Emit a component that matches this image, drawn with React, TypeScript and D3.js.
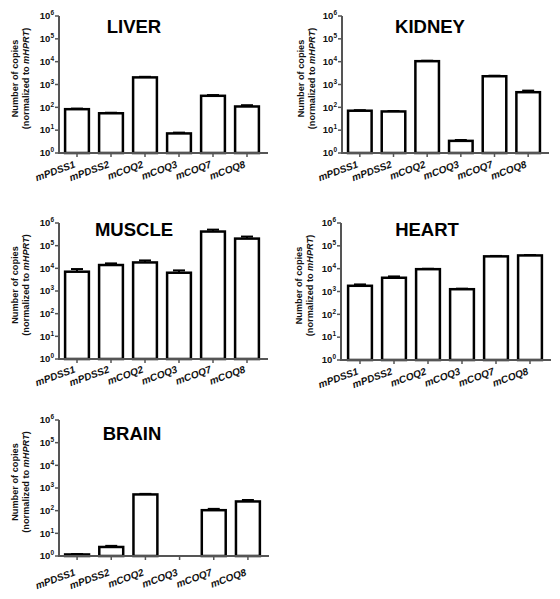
import React from "react";
import * as d3 from "d3";

const categories = ["mPDSS1", "mPDSS2", "mCOQ2", "mCOQ3", "mCOQ7", "mCOQ8"];
const tissues = ["LIVER", "KIDNEY", "MUSCLE", "HEART", "BRAIN"];

const liverValues = [83, 55, 2050, 7.2, 320, 109];
const liverSem = [5, 3, 120, 0.6, 25, 15];
const kidneyValues = [71, 66, 10500, 3.4, 2300, 460];
const kidneySem = [4, 3, 500, 0.3, 120, 80];
const muscleValues = [7100, 14000, 18200, 6400, 420000, 205000];
const muscleSem = [2200, 2500, 4100, 1700, 90000, 47000];
const heartValues = [1780, 4000, 9500, 1260, 34600, 38000];
const heartSem = [260, 570, 400, 70, 1500, 1500];
const brainValues: (number | null)[] = [1.17, 2.5, 520, null, 105, 255];
const brainSem: (number | null)[] = [0.05, 0.3, 30, null, 15, 40];

const yExponents = [0, 1, 2, 3, 4, 5, 6];

const seriesValues = [liverValues, kidneyValues, muscleValues, heartValues, brainValues];
const seriesSem = [liverSem, kidneySem, muscleSem, heartSem, brainSem];

const layouts = [
  { axisX: 59, top: 16, bottom: 153, x0: 60, x1: 264, titleX: 134, titleY: 33, labelDy: 14, labX: 15 },
  { axisX: 342, top: 16, bottom: 153, x0: 343, x1: 545, titleX: 430, titleY: 33, labelDy: 14, labX: 300.7 },
  { axisX: 59, top: 223, bottom: 359, x0: 60, x1: 264, titleX: 134, titleY: 236, labelDy: 13, labX: 15 },
  { axisX: 341, top: 223, bottom: 360, x0: 343, x1: 547, titleX: 427, titleY: 236, labelDy: 14, labX: 299 },
  { axisX: 59, top: 420, bottom: 556, x0: 60, x1: 265, titleX: 132, titleY: 440, labelDy: 19, labX: 15 },
];

const FONT = "'Liberation Sans', Arial, Helvetica, sans-serif";
const AXIS = "#555";

function Panel({ idx }: { idx: number }) {
  const L = layouts[idx];
  const values = seriesValues[idx];
  const sem = seriesSem[idx];
  const x = d3.scaleBand<string>().domain(categories).range([L.x0, L.x1]).paddingInner(0.3).paddingOuter(0.15);
  const y = d3.scaleLog().domain([1, 1e6]).range([L.bottom, L.top]);
  const bw = x.bandwidth();
  const capW = 12;
  const labY = (L.top + L.bottom) / 2 - 6;
  return (
    <g>
      <text x={L.titleX} y={L.titleY} textAnchor="middle" fontFamily={FONT} fontWeight="bold" fontSize={18.5} fill="#000">
        {tissues[idx]}
      </text>
      {/* y label */}
      <g transform={`translate(${L.labX},${labY}) rotate(-90)`} fontFamily={FONT} fontWeight="bold" fontSize={9.2} fill="#111">
        <text textAnchor="middle" dy="0.35em">Number of copies</text>
        <text textAnchor="middle" dy="0.35em" y={10.6}>
          (normalized to <tspan fontStyle="italic">mHPRT</tspan>)
        </text>
      </g>
      {/* bars */}
      {categories.map((c, i) => {
        const v = values[i];
        if (v == null) return null;
        const xs = x(c)!;
        const yt = y(v);
        const s = sem[i] ?? 0;
        const ye = y(v + s);
        const cx = xs + bw / 2;
        return (
          <g key={c}>
            <line x1={cx} x2={cx} y1={yt} y2={ye} stroke="#000" strokeWidth={2} />
            <line x1={cx - capW / 2} x2={cx + capW / 2} y1={ye} y2={ye} stroke="#000" strokeWidth={2} />
            <rect x={xs} y={yt} width={bw} height={L.bottom - yt} fill="#fff" stroke="#000" strokeWidth={2.5} />
          </g>
        );
      })}
      {/* axes */}
      <line x1={L.axisX} x2={L.axisX} y1={L.top} y2={L.bottom} stroke={AXIS} strokeWidth={2} />
      <line x1={L.axisX - 1} x2={L.x1 + 4} y1={L.bottom} y2={L.bottom} stroke={AXIS} strokeWidth={2} />
      {yExponents.map((e) => {
        const yy = y(Math.pow(10, e));
        return (
          <g key={e}>
            <line x1={L.axisX - 4} x2={L.axisX} y1={yy} y2={yy} stroke={AXIS} strokeWidth={1.5} />
            <text x={L.axisX - 5} y={yy} dy="0.35em" textAnchor="end" fontFamily={FONT} fontWeight="bold" fontSize={9.5} fill="#111">
              10<tspan fontSize={6.5} dy={-4}>{e}</tspan>
            </text>
          </g>
        );
      })}
      {categories.map((c) => {
        const cx = x(c)! + bw / 2;
        return (
          <g key={c}>
            <line x1={cx} x2={cx} y1={L.bottom} y2={L.bottom + 4} stroke={AXIS} strokeWidth={1.5} />
            <text
              transform={`translate(${cx - 1},${L.bottom + L.labelDy}) rotate(-20)`}
              textAnchor="end"
              fontFamily={FONT}
              fontWeight="bold"
              fontStyle="italic"
              fontSize={10}
              fill="#111"
            >
              {c}
            </text>
          </g>
        );
      })}
    </g>
  );
}

export default function App() {
  return (
    <svg width={560} height={599} style={{ position: "absolute", left: 0, top: 0, background: "#fff" }}>
      <rect width={560} height={599} fill="#fff" />
      {tissues.map((t, i) => (
        <Panel key={t} idx={i} />
      ))}
    </svg>
  );
}
